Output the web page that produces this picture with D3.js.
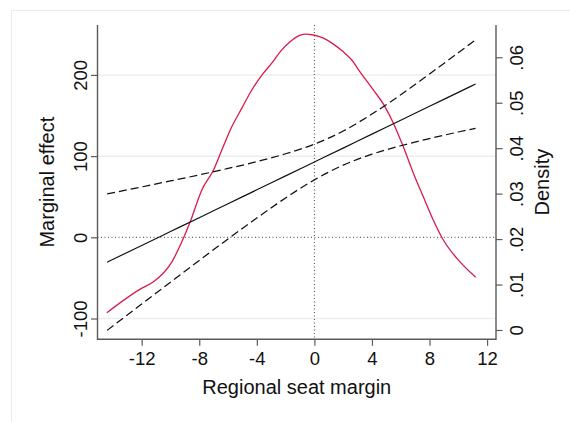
<!DOCTYPE html>
<html>
<head>
<meta charset="utf-8">
<script src="https://cdn.jsdelivr.net/npm/d3@7"></script>
<style>
  html, body { margin: 0; padding: 0; background: #ffffff; }
  svg text { font-family: "Liberation Sans", Arial, sans-serif; fill: #111111; }
</style>
</head>
<body>
<div id="chart"></div>
<script>
// marginal effect of regional seat margin, with 95% CI
const marginX = [-14.4, -12, -10, -8, -6, -4, -2, 0, 2, 4, 6, 8, 10, 11.2];
const effect = [-30.6, -10.0, 7.1, 24.2, 41.4, 58.5, 75.7, 92.8, 109.9, 127.1, 144.2, 161.4, 178.5, 188.8];
const upperCI = [53.4, 62.1, 69.4, 76.9, 84.8, 93.2, 102.9, 114.8, 130.9, 151.8, 175.6, 201.2, 227.3, 243.3];
const lowerCI = [-114.6, -82.1, -55.2, -28.5, -2.0, 23.8, 48.5, 70.8, 88.9, 102.4, 112.8, 121.6, 129.7, 134.3];

// kernel density of the margin (right axis)
const densityX = [-14.42, -12.1, -11.18, -9.9, -9.21, -8.63, -7.82, -7.01, -6.43, -5.74, -5.04, -4.35, -3.54, -2.96,
                  -2.38, -1.69, -1.11, -0.65, -0.07, 0.63, 1.32, 2.01, 2.6, 3.17, 4.10, 4.91, 5.49, 6.18,
                  6.88, 7.57, 8.26, 8.96, 9.89, 11.21];
const densityY = [0.0038, 0.0090, 0.0106, 0.0150, 0.0194, 0.0238, 0.0308, 0.0352, 0.0396, 0.0447, 0.0488, 0.0528, 0.0565, 0.0587,
                  0.0612, 0.0634, 0.0647, 0.0651, 0.0649, 0.0642, 0.0629, 0.0612, 0.0594, 0.0568, 0.0528, 0.0491, 0.0455, 0.0403,
                  0.0345, 0.0293, 0.0242, 0.0198, 0.0158, 0.0116];

const xTicks = [-12, -8, -4, 0, 4, 8, 12];
const yLeftTicks = [-100, 0, 100, 200];
const yRightTicks = [0, 0.01, 0.02, 0.03, 0.04, 0.05, 0.06];
const rightTickLabels = ['0', '.01', '.02', '.03', '.04', '.05', '.06'];

const width = 570;
const height = 422;
const plot = { left: 97.5, right: 496, top: 25, bottom: 339.3 };

const svg = d3.select('#chart').append('svg')
    .attr('width', width)
    .attr('height', height);

// outer graph region frame
svg.append('rect')
    .attr('x', 11.5).attr('y', 10.5)
    .attr('width', 600).attr('height', 440)
    .attr('fill', 'none')
    .attr('stroke', '#e6eef0')
    .attr('stroke-width', 1.2);

const x = d3.scaleLinear().domain([-15.07, 12.62]).range([plot.left, plot.right]);
const yL = d3.scaleLinear().domain([-125.6, 261.5]).range([plot.bottom, plot.top]);
const yR = d3.scaleLinear().domain([-0.00205, 0.0671]).range([plot.bottom, plot.top]);

// gridlines
svg.append('g')
    .selectAll('line')
    .data(yLeftTicks.filter(d => d !== 0))
    .enter()
    .append('line')
    .attr('x1', plot.left).attr('x2', plot.right)
    .attr('y1', d => yL(d)).attr('y2', d => yL(d))
    .attr('stroke', '#e8f0f1')
    .attr('stroke-width', 1.5);

// reference lines at zero
svg.append('line')
    .attr('x1', plot.left).attr('x2', plot.right)
    .attr('y1', yL(0)).attr('y2', yL(0))
    .attr('stroke', '#444444').attr('stroke-width', 1)
    .attr('stroke-dasharray', '1,2.5');
svg.append('line')
    .attr('x1', x(0)).attr('x2', x(0))
    .attr('y1', plot.top).attr('y2', plot.bottom)
    .attr('stroke', '#444444').attr('stroke-width', 1)
    .attr('stroke-dasharray', '1,2.5');

// density curve
const densLine = d3.line()
    .x((d, i) => x(densityX[i]))
    .y(d => yR(d))
    .curve(d3.curveMonotoneX);
svg.append('path')
    .attr('d', densLine(densityY))
    .attr('fill', 'none')
    .attr('stroke', '#d81b4b')
    .attr('stroke-width', 1.3)
    .attr('stroke-linejoin', 'round');

// marginal effect + CI
const meLine = d3.line()
    .x((d, i) => x(marginX[i]))
    .y(d => yL(d))
    .curve(d3.curveMonotoneX);
[upperCI, lowerCI].forEach(s => {
    svg.append('path')
        .attr('d', meLine(s))
        .attr('fill', 'none')
        .attr('stroke', '#111111')
        .attr('stroke-width', 1.25)
        .attr('stroke-dasharray', '8,4');
});
svg.append('path')
    .attr('d', meLine(effect))
    .attr('fill', 'none')
    .attr('stroke', '#111111')
    .attr('stroke-width', 1.2);

// axes
const axisColor = '#5a5a5a';
const styleAxis = g => {
    g.select('.domain').remove();
    g.selectAll('line').attr('stroke', axisColor).attr('stroke-width', 1.2);
    g.selectAll('text').style('font-size', '18.5px').attr('fill', '#111111');
};

const xAxis = svg.append('g')
    .attr('transform', `translate(0, ${plot.bottom})`)
    .call(d3.axisBottom(x).tickValues(xTicks).tickSize(6.5).tickFormat(d => String(d)))
    .call(styleAxis);
xAxis.selectAll('text').attr('dy', '0.71em').attr('y', 13);

const leftAxis = svg.append('g')
    .attr('transform', `translate(${plot.left}, 0)`)
    .call(d3.axisLeft(yL).tickValues(yLeftTicks).tickSize(6.5).tickFormat(d => String(d)))
    .call(styleAxis);
leftAxis.selectAll('text')
    .attr('transform', 'rotate(-90)')
    .attr('x', 0).attr('y', -10.5).attr('dy', 0)
    .attr('text-anchor', 'middle');

const rightAxis = svg.append('g')
    .attr('transform', `translate(${plot.right}, 0)`)
    .call(d3.axisRight(yR).tickValues(yRightTicks).tickSize(6.5).tickFormat((d, i) => rightTickLabels[i]))
    .call(styleAxis);
rightAxis.selectAll('text')
    .attr('transform', 'rotate(-90)')
    .attr('x', 0).attr('y', 27).attr('dy', 0)
    .attr('text-anchor', 'middle');

// axis lines
svg.append('path')
    .attr('d', `M${plot.left},${plot.top}V${plot.bottom}H${plot.right}V${plot.top}`)
    .attr('fill', 'none')
    .attr('stroke', axisColor)
    .attr('stroke-width', 1.4);

// titles
svg.append('text')
    .attr('x', (plot.left + plot.right) / 2)
    .attr('y', 394)
    .attr('text-anchor', 'middle')
    .style('font-size', '20px')
    .text('Regional seat margin');
svg.append('text')
    .attr('transform', `translate(53.5, ${(plot.top + plot.bottom) / 2}) rotate(-90)`)
    .attr('text-anchor', 'middle')
    .style('font-size', '20px')
    .text('Marginal effect');
svg.append('text')
    .attr('transform', `translate(549, ${(plot.top + plot.bottom) / 2}) rotate(-90)`)
    .attr('text-anchor', 'middle')
    .style('font-size', '20px')
    .text('Density');
</script>
</body>
</html>
